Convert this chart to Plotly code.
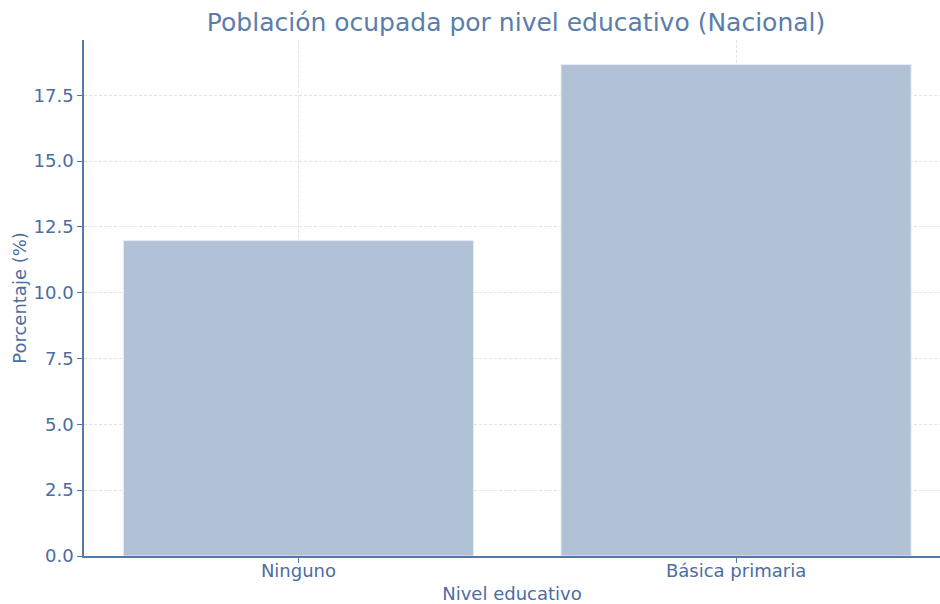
import plotly.graph_objects as go

categorias = ['Ninguno', 'Básica primaria']
porcentajes = [11.98, 18.67]

txt = '#4A6DA3'

fig = go.Figure(go.Bar(x=categorias, y=porcentajes, width=0.8,
                       marker=dict(color='#B1C1D6', line=dict(color='#E6ECF3', width=1))))

fig.update_layout(
    width=940, height=604,
    paper_bgcolor='white', plot_bgcolor='white',
    margin=dict(l=84, r=0, t=40, b=48),
    font=dict(family='DejaVu Sans', size=18, color=txt),
    title=dict(text='Población ocupada por nivel educativo (Nacional)',
               x=0.549, xanchor='center', y=0.963, yanchor='middle',
               font=dict(size=25, color='#5A7DAE')),
    showlegend=False,
)

fig.update_xaxes(
    range=[-0.49, 1.466],
    title=dict(text='Nivel educativo', font=dict(size=18, color=txt), standoff=10),
    showline=True, linecolor='#5577AA', linewidth=1.5,
    ticks='outside', ticklen=5, tickcolor='#5577AA', ticklabelstandoff=-7,
    showgrid=True, gridcolor='#DFE4EC', griddash='3px,2px', gridwidth=1,
    tickfont=dict(size=18, color=txt),
)
fig.update_yaxes(
    range=[0, 19.6],
    dtick=2.5, tickformat='.1f',
    title=dict(text='Porcentaje (%)', font=dict(size=18, color=txt), standoff=2),
    showline=True, linecolor='#5577AA', linewidth=1.5,
    ticks='outside', ticklen=5, tickcolor='#5577AA',
    showgrid=True, gridcolor='#DFE4EC', griddash='3px,2px', gridwidth=1,
    zeroline=False,
    tickfont=dict(size=18, color=txt),
)

fig.write_html('out.html', config={'displayModeBar': False},
               post_script="document.body.style.margin='0px';")
